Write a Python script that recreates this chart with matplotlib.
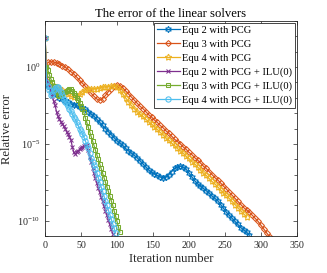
import numpy as np
import matplotlib
matplotlib.use("Agg")
import matplotlib.pyplot as plt
from matplotlib.ticker import FixedLocator, NullFormatter

plt.rcParams['font.family'] = ['Liberation Serif', 'DejaVu Serif']
plt.rcParams['mathtext.fontset'] = 'custom'
plt.rcParams['mathtext.rm'] = 'Liberation Serif'
plt.rcParams['mathtext.it'] = 'Liberation Serif:italic'

# exponents (log10 of the relative error)
it_pcg2 = np.arange(0, 285, 4)
equ2_pcg = [1.9, -1.25, -1.5, -1.7, -1.85, -2.0, -2.1, -2.2, -2.3, -2.4,
            -2.45, -2.5, -2.58, -2.65, -2.75, -2.9, -3.05, -3.2, -3.4, -3.6,
            -3.8, -4.0, -4.2, -4.4, -4.6, -4.8, -4.95, -5.1, -5.3, -5.45,
            -5.6, -5.75, -5.9, -6.1, -6.3, -6.5, -6.7, -6.85, -6.95, -7.05,
            -7.15, -7.2, -7.15, -7.0, -6.8, -6.6, -6.5, -6.45, -6.5, -6.65,
            -6.9, -7.15, -7.4, -7.6, -7.75, -7.9, -8.05, -8.2, -8.4, -8.55,
            -8.7, -8.95, -9.2, -9.45, -9.65, -9.85, -10.05, -10.25, -10.45, -10.6,
            -10.75, -10.95]

it_pcg3 = np.arange(0, 313, 4)
equ3_pcg = [0.0, 0.3, 0.35, 0.33, 0.28, 0.2, 0.1, 0.0, -0.15, -0.3,
            -0.45, -0.65, -0.85, -1.05, -1.25, -1.45, -1.7, -1.9, -2.08, -2.15,
            -2.05, -1.85, -1.6, -1.4, -1.25, -1.18, -1.2, -1.35, -1.55, -1.75,
            -1.95, -2.15, -2.35, -2.55, -2.7, -2.9, -3.1, -3.25, -3.45, -3.6,
            -3.8, -3.95, -4.15, -4.3, -4.5, -4.7, -4.85, -5.0, -5.2, -5.35,
            -5.55, -5.7, -5.9, -6.05, -6.25, -6.45, -6.6, -6.8, -7.0, -7.2,
            -7.35, -7.55, -7.75, -7.95, -8.15, -8.35, -8.55, -8.75, -8.95, -9.15,
            -9.3, -9.45, -9.65, -9.85, -10.05, -10.3, -10.55, -10.8, -11.05]

it_pcg4 = np.arange(0, 281, 4)
equ4_pcg = [1.9, -0.95, -1.15, -1.25, -1.3, -1.4, -1.5, -1.65, -1.78, -1.9,
            -1.95, -1.9, -1.75, -1.6, -1.5, -1.45, -1.4, -1.42, -1.4, -1.35,
            -1.3, -1.3, -1.28, -1.25, -1.22, -1.3, -1.5, -1.75, -2.0, -2.25,
            -2.5, -2.7, -2.9, -3.05, -3.2, -3.4, -3.55, -3.7, -3.9, -4.05,
            -4.25, -4.4, -4.6, -4.75, -4.95, -5.1, -5.3, -5.45, -5.6, -5.8,
            -5.95, -6.15, -6.3, -6.5, -6.7, -6.9, -7.05, -7.25, -7.45, -7.6,
            -7.8, -8.0, -8.2, -8.35, -8.55, -8.75, -8.95, -9.15, -9.35, -9.55,
            -9.75]

it_ilu2 = np.arange(0, 95, 2)
equ2_ilu = [1.9, -0.7, -1.0, -1.3, -1.6, -1.9, -2.2, -2.5, -2.9, -3.2,
            -3.4, -3.55, -3.7, -3.85, -4.0, -4.2, -4.35, -4.55, -4.75, -5.2,
            -5.55, -5.65, -5.55, -5.45, -5.35, -5.3, -5.2, -5.15, -5.1, -5.1,
            -5.4, -5.85, -6.2, -6.55, -6.9, -7.25, -7.55, -7.85, -8.15, -8.45,
            -8.75, -9.05, -9.35, -9.65, -9.95, -10.25, -10.55, -10.85]

it_ilu3 = np.arange(0, 105, 2)
equ3_ilu = [0.0, 0.0, -0.2, -0.5, -0.75, -1.0, -1.2, -1.4, -1.6, -1.8,
            -1.9, -1.85, -1.75, -1.65, -1.6, -1.55, -1.5, -1.45, -1.45, -1.55,
            -1.7, -1.85, -2.0, -2.15, -2.35, -2.55, -2.75, -2.95, -3.3, -3.6,
            -3.9, -4.2, -4.5, -4.8, -5.1, -5.4, -5.7, -6.0, -6.3, -6.6,
            -6.9, -7.2, -7.5, -7.8, -8.1, -8.4, -8.7, -9.0, -9.35, -9.7,
            -10.05, -10.4, -10.75]

it_ilu4 = np.arange(0, 99, 2)
equ4_ilu = [1.9, -1.0, -1.2, -1.5, -1.8, -1.75, -1.5, -1.35, -1.3, -1.3,
            -1.45, -1.65, -1.85, -2.05, -2.25, -2.4, -2.55, -2.7, -2.85, -3.05,
            -3.25, -3.4, -3.6, -3.8, -4.0, -4.15, -4.35, -4.55, -4.8, -5.05,
            -5.3, -5.6, -5.9, -6.15, -6.4, -6.65, -6.9, -7.2, -7.5, -7.8,
            -8.1, -8.4, -8.7, -9.0, -9.3, -9.6, -9.9, -10.2, -10.5, -10.8]

labels = ['Equ 2 with PCG', 'Equ 3 with PCG', 'Equ 4 with PCG',
          'Equ 2 with PCG + ILU(0)', 'Equ 3 with PCG + ILU(0)', 'Equ 4 with PCG + ILU(0)']
colors = ['#0072BD', '#D95319', '#EDB120', '#7E2F8E', '#77AC30', '#4DBEEE']
markers = [(6, 1, 0), 'D', (5, 1, 0), 'x', 's', 'o']
msizes = [4.6, 3.0, 4.8, 3.2, 3.4, 3.8]

series = [(it_pcg2, equ2_pcg), (it_pcg3, equ3_pcg), (it_pcg4, equ4_pcg),
          (it_ilu2, equ2_ilu), (it_ilu3, equ3_ilu), (it_ilu4, equ4_ilu)]

fig = plt.figure(figsize=(3.27, 2.73), dpi=100)
ax = fig.add_axes([0.1376, 0.1355, 0.7704, 0.7875])

for (x, e), lab, c, m, ms in zip(series, labels, colors, markers, msizes):
    ax.semilogy(x, 10.0 ** np.array(e), color=c, marker=m, markersize=ms,
                markerfacecolor='none', markeredgewidth=0.75, linewidth=0.9,
                label=lab)

ax.set_xlim(0, 350)
ax.set_ylim(1e-11, 1e3)
ax.set_xticks(np.arange(0, 351, 50))
ax.yaxis.set_major_locator(FixedLocator([1e-10, 1e-5, 1e0]))
ax.yaxis.set_minor_locator(FixedLocator([10.0 ** k for k in range(-11, 4)]))
ax.yaxis.set_minor_formatter(NullFormatter())
ax.set_yticklabels(['$10^{-10}$', '$10^{-5}$', '$10^{0}$'])

ax.tick_params(which='both', direction='in', top=True, right=True,
               labelsize=7.2, colors='#262626', width=0.5)
ax.tick_params(which='major', length=3)
ax.tick_params(which='minor', length=2.5)
for s in ax.spines.values():
    s.set_linewidth(0.6)
    s.set_color('#262626')

ax.set_title('The error of the linear solvers', fontsize=9.1, pad=3)
ax.set_xlabel('Iteration number', fontsize=9.1, labelpad=2, color='#262626')
ax.set_ylabel('Relative error', fontsize=9.1, labelpad=3, color='#262626')

leg = ax.legend(loc='upper right', fontsize=7.6, frameon=True, fancybox=False,
                edgecolor='#262626', framealpha=1, borderaxespad=0.15,
                borderpad=0.3, labelspacing=0.42, handlelength=2.2,
                handletextpad=0.2)
leg.get_frame().set_linewidth(0.6)

fig.savefig('out.png', dpi=100)
